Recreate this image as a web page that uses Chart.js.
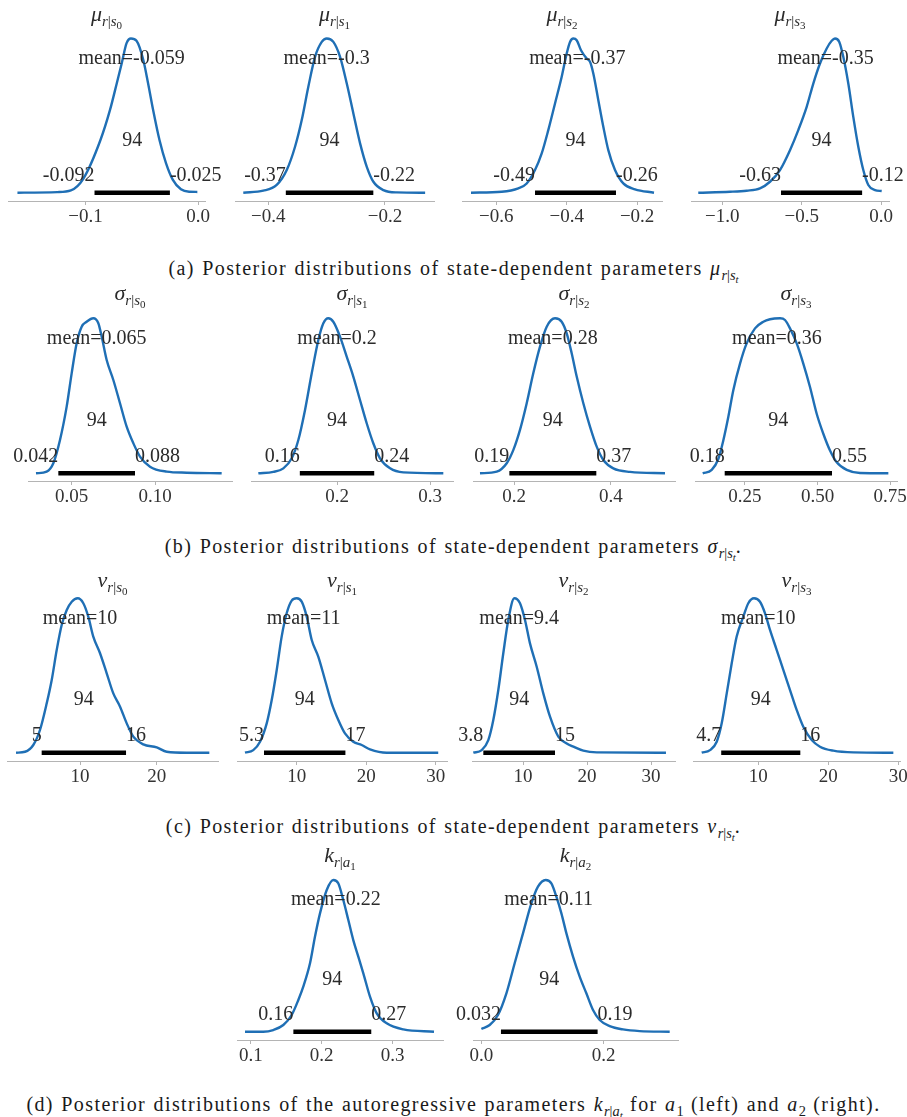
<!DOCTYPE html>
<html>
<head>
<meta charset="utf-8">
<script src="https://cdn.jsdelivr.net/npm/chart.js@4.4.0/dist/chart.umd.min.js"></script>
<style>
  body { margin: 0; background: #fff; width: 907px; height: 1117px; position: relative; overflow: hidden; font-family: "Liberation Serif", serif; }
  canvas { position: absolute; }
  .cap { position: absolute; left: 0; width: 907px; text-align: center; font-size: 20px; letter-spacing: 1.4px; word-spacing: 1px; line-height: 22px; color: #1a1a1a; white-space: nowrap; }
  .cap sub { font-size: 72%; vertical-align: -0.35em; line-height: 0; letter-spacing: 0; }
  .cap sub sub { font-size: 75%; vertical-align: -0.3em; }
</style>
</head>
<body>
<div class="cap" style="top:257px">(a) Posterior distributions of state-dependent parameters <i>μ</i><sub><i>r</i>|<i>s</i><sub><i>t</i></sub></sub></div>
<div class="cap" style="top:535px">(b) Posterior distributions of state-dependent parameters <i>σ</i><sub><i>r</i>|<i>s</i><sub><i>t</i></sub></sub>.</div>
<div class="cap" style="top:815px">(c) Posterior distributions of state-dependent parameters <i>ν</i><sub><i>r</i>|<i>s</i><sub><i>t</i></sub></sub>.</div>
<div class="cap" style="top:1093px">(d) Posterior distributions of the autoregressive parameters <i>k</i><sub><i>r</i>|<i>a</i><sub><i>t</i></sub></sub> for <i>a</i><sub>1</sub> (left) and <i>a</i><sub>2</sub> (right).</div>
<script>
// posterior densities (x value, relative height with peak = 1)
const mu0X = [-0.1605,-0.125,-0.113,-0.102,-0.0868,-0.0781,-0.0722,-0.0678,-0.0635,-0.0596,-0.0547,-0.0488,-0.0444,-0.040,-0.0342,-0.0284,-0.0225,-0.0152,-0.0079,-0.0006];
const mu0D = [0,0.004,0.015,0.09,0.34,0.54,0.71,0.84,0.97,1,0.985,0.865,0.71,0.54,0.34,0.19,0.085,0.022,0.006,0.005];
const mu1X = [-0.4429,-0.4086,-0.3856,-0.3684,-0.3542,-0.3427,-0.3314,-0.3199,-0.3084,-0.2998,-0.2885,-0.2770,-0.2655,-0.2542,-0.2427,-0.2312,-0.2199,-0.2027,-0.1799,-0.1312];
const mu1D = [0,0.013,0.05,0.147,0.298,0.471,0.687,0.881,0.978,1,0.978,0.881,0.708,0.514,0.32,0.168,0.071,0.017,0.002,0];
const mu2X = [-0.6719,-0.5847,-0.5375,-0.5136,-0.4901,-0.4710,-0.4523,-0.4332,-0.4142,-0.4,-0.3906,-0.3812,-0.3716,-0.3594,-0.3432,-0.3338,-0.3244,-0.3102,-0.2960,-0.2818,-0.2628,-0.2392,-0.2060,-0.1520];
const mu2D = [0,0.006,0.028,0.06,0.147,0.255,0.406,0.579,0.752,0.903,0.978,1,0.989,0.924,0.87,0.849,0.773,0.6,0.428,0.276,0.147,0.06,0.022,0];
const mu3X = [-1.1503,-0.951,-0.8459,-0.7623,-0.6994,-0.6365,-0.5736,-0.5214,-0.4686,-0.4270,-0.3849,-0.3428,-0.3113,-0.2906,-0.2635,-0.2384,-0.2069,-0.1755,-0.1440,-0.1126,-0.0811,-0.0390,0.0031];
const mu3D = [0,0.006,0.013,0.028,0.071,0.147,0.276,0.406,0.557,0.708,0.838,0.935,0.985,1,0.978,0.881,0.708,0.492,0.298,0.147,0.05,0.017,0.011];

const sig0X = [0.0286,0.0350,0.0390,0.0430,0.0470,0.05,0.0530,0.0560,0.0590,0.0630,0.0660,0.0680,0.0710,0.0750,0.0790,0.0830,0.0870,0.0910,0.0970,0.1070,0.1190,0.1400];
const sig0D = [0,0.011,0.065,0.215,0.43,0.645,0.839,0.946,0.978,1,0.968,0.882,0.731,0.602,0.452,0.301,0.194,0.108,0.043,0.011,0.004,0];
const sig1X = [0.1154,0.1315,0.1423,0.1513,0.1584,0.1656,0.1728,0.1799,0.1853,0.1906,0.1960,0.2032,0.2104,0.2175,0.2247,0.2319,0.2390,0.2462,0.2570,0.2713,0.3143];
const sig1D = [0,0.009,0.032,0.097,0.215,0.409,0.645,0.86,0.968,1,0.978,0.882,0.753,0.624,0.473,0.323,0.194,0.097,0.032,0.006,0];
const sig2X = [0.1292,0.1638,0.1845,0.1983,0.2120,0.2259,0.2395,0.2534,0.2673,0.2845,0.2983,0.3087,0.3190,0.3294,0.3431,0.3569,0.3708,0.3845,0.4052,0.4398,0.5122];
const sig2D = [0,0.011,0.065,0.151,0.28,0.452,0.645,0.817,0.946,1,0.978,0.903,0.774,0.624,0.452,0.301,0.172,0.086,0.032,0.009,0];
const sig3X = [0.1042,0.1352,0.1580,0.1752,0.1924,0.2097,0.2328,0.2557,0.2845,0.3132,0.3362,0.3707,0.3879,0.4052,0.4283,0.4510,0.4741,0.4972,0.5200,0.5431,0.5662,0.6007,0.6466,0.7443];
const sig3D = [0,0.022,0.092,0.212,0.363,0.536,0.708,0.838,0.935,0.978,0.994,1,0.989,0.935,0.838,0.708,0.557,0.384,0.255,0.147,0.071,0.022,0.002,0];

const nu0X = [1.66,2.83,3.91,4.78,5.66,6.31,6.96,7.61,8.27,8.92,9.70,10.43,11.08,11.73,12.61,13.48,14.34,15.22,16.09,16.95,18.25,20.0,21.3,23.9,26.86];
const nu0D = [0,0.006,0.05,0.147,0.32,0.471,0.665,0.827,0.924,0.978,1,0.968,0.881,0.752,0.644,0.514,0.384,0.298,0.19,0.104,0.054,0.035,0.006,0,0];
const nu1X = [2.57,3.76,4.73,5.69,6.41,7.13,7.84,8.56,9.28,10.0,10.72,11.44,12.16,13.1,14.07,15.03,15.98,16.94,18.13,19.34,20.53,22.93,30.34];
const nu1D = [0,0.017,0.071,0.19,0.341,0.536,0.752,0.903,0.985,1,0.978,0.881,0.73,0.622,0.471,0.32,0.212,0.125,0.071,0.05,0.022,0,0];
const nu2X = [2.23,3.55,4.58,5.36,6.14,6.92,7.70,8.64,9.53,10.31,11.09,12.14,13.17,14.22,15.52,16.83,17.86,19.42,21.52,32.34];
const nu2D = [0,0.017,0.082,0.212,0.406,0.644,0.86,1,0.968,0.86,0.708,0.557,0.384,0.233,0.104,0.06,0.039,0.013,0.002,0];
const nu3X = [1.91,3.1,4.06,4.77,5.49,6.2,6.91,7.86,8.57,9.39,10.24,10.96,11.67,12.63,13.57,14.53,15.49,16.43,17.63,18.81,20.71,23.57,29.29];
const nu3D = [0,0.017,0.071,0.19,0.384,0.579,0.752,0.881,0.968,1,0.978,0.903,0.795,0.665,0.536,0.406,0.276,0.168,0.082,0.039,0.013,0.002,0];

const k1X = [0.0917,0.1175,0.1316,0.1458,0.1576,0.1670,0.1740,0.1835,0.1905,0.1976,0.2071,0.2164,0.2234,0.2305,0.2376,0.2446,0.2517,0.2588,0.2682,0.2777,0.2918,0.3153,0.3586];
const k1D = [0,0,0.011,0.044,0.11,0.209,0.297,0.451,0.626,0.78,0.934,1,0.978,0.868,0.736,0.604,0.495,0.385,0.231,0.121,0.055,0.015,0];
const k2X = [0,0.0136,0.0271,0.0409,0.0544,0.0680,0.0817,0.0925,0.1051,0.1144,0.1226,0.1308,0.1390,0.1498,0.1607,0.1716,0.1825,0.1934,0.2097,0.2315,0.2588,0.3078];
const k2D = [0.018,0.044,0.11,0.253,0.451,0.648,0.846,0.956,1,0.978,0.89,0.78,0.648,0.495,0.363,0.253,0.143,0.077,0.037,0.015,0.004,0];

// posterior means and 94% HDI bounds
const muMean = [-0.059, -0.3, -0.37, -0.35];
const muHdi = [[-0.092, -0.025], [-0.37, -0.22], [-0.49, -0.26], [-0.63, -0.12]];
const sigMean = [0.065, 0.2, 0.28, 0.36];
const sigHdi = [[0.042, 0.088], [0.16, 0.24], [0.19, 0.37], [0.18, 0.55]];
const nuMean = [10, 11, 9.4, 10];
const nuHdi = [[5, 16], [5.3, 17], [3.8, 15], [4.7, 16]];
const kMean = [0.22, 0.11];
const kHdi = [[0.16, 0.27], [0.032, 0.19]];

// x tick values per panel
const muTicks = [[-0.1, 0.0], [-0.4, -0.2], [-0.6, -0.4, -0.2], [-1.0, -0.5, 0.0]];
const sigTicks = [[0.05, 0.10], [0.2, 0.3], [0.2, 0.4], [0.25, 0.50, 0.75]];
const nuTicks = [[10, 20], [10, 20, 30], [10, 20, 30], [10, 20, 30]];
const kTicks = [[0.1, 0.2, 0.3], [0.0, 0.2]];

// vertical layout of each row (page px): peak of density, zero line, axis line, title baseline
const rows = [
  { peak: 38.5, zero: 192.7, axis: 201, title: 21 },
  { peak: 318.3, zero: 473.3, axis: 481, title: 300 },
  { peak: 598.3, zero: 752.7, axis: 761, title: 587 },
  { peak: 880, zero: 1031.7, axis: 1040, title: 862 }
];

const panels = [
  { row: 0, axL: 8,   axR: 205, min: -0.1689, max: 0.0062, sym: 'μ', sv: 's', si: '0', x: mu0X, d: mu0D, mean: muMean[0], hdi: muHdi[0], ticks: muTicks[0], dec: 1 },
  { row: 0, axL: 235, axR: 434, min: -0.4571, max: -0.116, sym: 'μ', sv: 's', si: '1', x: mu1X, d: mu1D, mean: muMean[1], hdi: muHdi[1], ticks: muTicks[1], dec: 1 },
  { row: 0, axL: 462, axR: 662, min: -0.6974, max: -0.1293, sym: 'μ', sv: 's', si: '2', x: mu2X, d: mu2D, mean: muMean[2], hdi: muHdi[2], ticks: muTicks[2], dec: 1 },
  { row: 0, axL: 691, axR: 889, min: -1.196, max: 0.049, sym: 'μ', sv: 's', si: '3', x: mu3X, d: mu3D, mean: muMean[3], hdi: muHdi[3], ticks: muTicks[3], dec: 1 },
  { row: 1, axL: 28,  axR: 232, min: 0.0238, max: 0.1462, sym: 'σ', sv: 's', si: '0', x: sig0X, d: sig0D, mean: sigMean[0], hdi: sigHdi[0], ticks: sigTicks[0], dec: 2 },
  { row: 1, axL: 251, axR: 453, min: 0.1075, max: 0.3247, sym: 'σ', sv: 's', si: '1', x: sig1X, d: sig1D, mean: sigMean[1], hdi: sigHdi[1], ticks: sigTicks[1], dec: 1 },
  { row: 1, axL: 473, axR: 675, min: 0.1147, max: 0.5329, sym: 'σ', sv: 's', si: '2', x: sig2X, d: sig2D, mean: sigMean[2], hdi: sigHdi[2], ticks: sigTicks[2], dec: 1 },
  { row: 1, axL: 695, axR: 897, min: 0.0776, max: 0.7741, sym: 'σ', sv: 's', si: '3', x: sig3X, d: sig3D, mean: sigMean[3], hdi: sigHdi[3], ticks: sigTicks[3], dec: 2 },
  { row: 2, axL: 7,   axR: 218, min: 0.48, max: 27.99, sym: 'ν', sv: 's', si: '0', x: nu0X, d: nu0D, mean: nuMean[0], hdi: nuHdi[0], ticks: nuTicks[0], dec: 0 },
  { row: 2, axL: 237, axR: 447, min: 1.42, max: 31.6, sym: 'ν', sv: 's', si: '1', x: nu1X, d: nu1D, mean: nuMean[1], hdi: nuHdi[1], ticks: nuTicks[1], dec: 0 },
  { row: 2, axL: 472, axR: 675, min: 2.03, max: 33.75, sym: 'ν', sv: 's', si: '2', x: nu2X, d: nu2D, mean: nuMean[2], hdi: nuHdi[2], ticks: nuTicks[2], dec: 0 },
  { row: 2, axL: 693, axR: 900, min: 0.67, max: 30.24, sym: 'ν', sv: 's', si: '3', x: nu3X, d: nu3D, mean: nuMean[3], hdi: nuHdi[3], ticks: nuTicks[3], dec: 0 },
  { row: 3, axL: 237, axR: 443, min: 0.0804, max: 0.3713, sym: 'k', sv: 'a', si: '1', x: k1X, d: k1D, mean: kMean[0], hdi: kHdi[0], ticks: kTicks[0], dec: 1 },
  { row: 3, axL: 473, axR: 678, min: -0.0137, max: 0.3214, sym: 'k', sv: 'a', si: '2', x: k2X, d: k2D, mean: kMean[1], hdi: kHdi[1], ticks: kTicks[1], dec: 1 }
];

const FONT = '"Liberation Serif"';
const TEXT = '#2b2b2b';
const SIDE = 40;     // room left/right of the axis for hdi labels
const SCALE_H = 26;  // fixed height of the x axis box

// mean / hdi annotations and the panel title
const annotations = {
  id: 'annotations',
  afterDatasetsDraw(chart, args, opts) {
    const p = opts.panel, r = opts.row;
    const { ctx, chartArea } = chart;
    const xs = chart.scales.x, ys = chart.scales.y;
    ctx.save();
    ctx.fillStyle = TEXT;
    ctx.font = '20px ' + FONT;
    ctx.textBaseline = 'middle';
    ctx.textAlign = 'center';
    ctx.fillText('mean=' + p.mean, xs.getPixelForValue(p.mean), ys.getPixelForValue(0.87));
    ctx.fillText('94', xs.getPixelForValue((p.hdi[0] + p.hdi[1]) / 2), ys.getPixelForValue(0.34));
    const ly = ys.getPixelForValue(0.11);
    ctx.textAlign = 'right';
    ctx.fillText(String(p.hdi[0]), xs.getPixelForValue(p.hdi[0]), ly);
    ctx.textAlign = 'left';
    ctx.fillText(String(p.hdi[1]), xs.getPixelForValue(p.hdi[1]), ly);

    // title like μ_{r|s_0}
    const parts = [
      { t: p.sym, f: 'italic 22px ', dy: 0 },
      { t: 'r', f: 'italic 15px ', dy: 5 },
      { t: '|', f: '15px ', dy: 5 },
      { t: p.sv, f: 'italic 15px ', dy: 5 },
      { t: p.si, f: '11px ', dy: 8 }
    ];
    let w = 0;
    parts.forEach(q => { ctx.font = q.f + FONT; q.w = ctx.measureText(q.t).width; w += q.w; });
    let tx = (chartArea.left + chartArea.right) / 2 - w / 2;
    const base = chartArea.top - (r.peak - r.title);
    ctx.textAlign = 'left';
    ctx.textBaseline = 'alphabetic';
    parts.forEach(q => { ctx.font = q.f + FONT; ctx.fillText(q.t, tx, base + q.dy); tx += q.w; });
    ctx.restore();
  }
};

function drawPanels() {
  panels.forEach(p => {
    const r = rows[p.row];
    const top = r.title - 24;
    const cv = document.createElement('canvas');
    const W = p.axR - p.axL + 2 * SIDE;
    const H = r.axis + 30 - top;
    cv.width = W; cv.height = H;
    cv.style.left = (p.axL - SIDE) + 'px';
    cv.style.top = top + 'px';
    document.body.appendChild(cv);

    new Chart(cv, {
      type: 'line',
      data: {
        datasets: [
          {
            data: p.x.map((v, i) => ({ x: v, y: p.d[i] })),
            borderColor: '#1f6fb5',
            borderWidth: 2.4,
            pointRadius: 0,
            cubicInterpolationMode: 'monotone',
            clip: false
          },
          {
            // 94% HDI bar
            data: [{ x: p.hdi[0], y: 0 }, { x: p.hdi[1], y: 0 }],
            borderColor: '#000',
            borderWidth: 4.5,
            borderCapStyle: 'butt',
            pointRadius: 0,
            clip: false
          }
        ]
      },
      options: {
        responsive: false,
        animation: false,
        events: [],
        layout: { padding: { left: SIDE, right: SIDE, top: r.peak - top, bottom: H - (r.axis - top) - SCALE_H } },
        plugins: { legend: { display: false }, tooltip: { enabled: false }, annotations: { panel: p, row: r } },
        scales: {
          x: {
            type: 'linear',
            min: p.min,
            max: p.max,
            afterBuildTicks: s => { s.ticks = p.ticks.map(v => ({ value: v })); },
            afterFit: s => { s.height = SCALE_H; },
            ticks: {
              autoSkip: false,
              maxRotation: 0,
              padding: 1,
              color: '#333',
              font: { family: FONT, size: 19 },
              callback: v => v.toFixed(p.dec).replace('-', '\u2212')
            },
            grid: { drawOnChartArea: false, drawTicks: true, tickLength: 4, color: '#b4b4b4' },
            border: { display: true, color: '#b4b4b4', width: 1 }
          },
          y: {
            display: false,
            min: -(r.axis - r.zero) / (r.zero - r.peak),
            max: 1
          }
        }
      },
      plugins: [annotations]
    });
  });
}

// make sure the serif face is ready before canvas text is drawn
Promise.all([
  document.fonts.load('20px "Liberation Serif"'),
  document.fonts.load('italic 20px "Liberation Serif"')
]).then(drawPanels, drawPanels);
</script>
</body>
</html>
